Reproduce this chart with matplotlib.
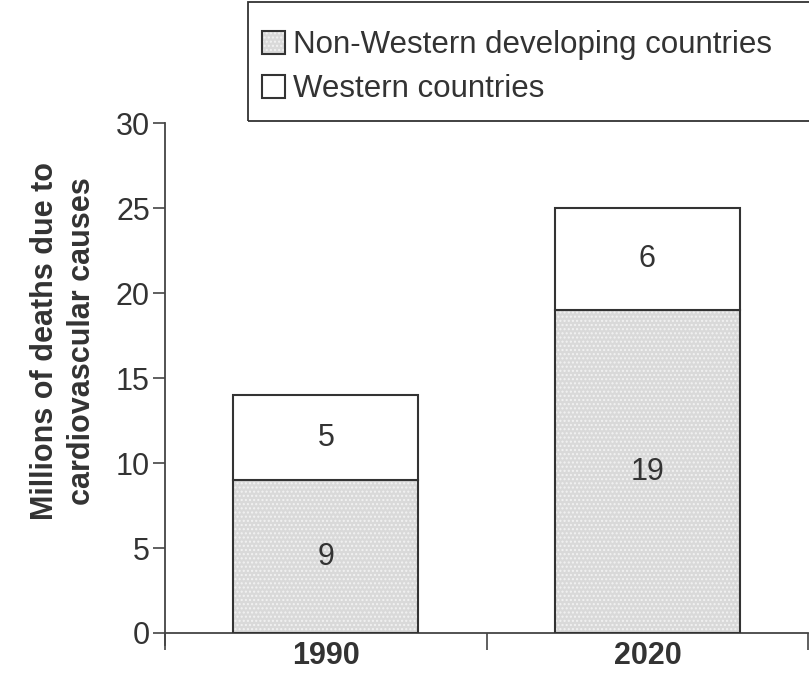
import matplotlib.pyplot as plt
from matplotlib.patches import Rectangle
import numpy as np

plt.rcParams['font.family'] = ['Liberation Sans', 'DejaVu Sans']

years = ['1990', '2020']
non_western = [9, 19]
western = [5, 6]
series_names = ['Non-Western developing countries', 'Western countries']

W, H = 809, 677
fig = plt.figure(figsize=(W / 100, H / 100), dpi=100)
ax = fig.add_axes([0.204, 0.065, 0.795, 0.753])

x = np.arange(len(years)) + 0.5
w = 0.575
gray = '#d9d9d9'
edge = '#333333'

b1 = ax.bar(x, non_western, w, color=gray, edgecolor=edge, linewidth=1.5,
            hatch='....', zorder=3)
b2 = ax.bar(x, western, w, bottom=non_western, color='white', edgecolor=edge,
            linewidth=1.5, zorder=3)
for patch in b1:
    patch._hatch_color = (0.95, 0.95, 0.95, 1)

for i in range(len(years)):
    ax.text(x[i], non_western[i] / 2, str(non_western[i]), ha='center',
            va='center', fontsize=22, color='#333333', zorder=4)
    ax.text(x[i], non_western[i] + western[i] / 2, str(western[i]),
            ha='center', va='center', fontsize=22, color='#333333', zorder=4)

ax.set_xlim(0, 2)
ax.set_ylim(0, 30)
ax.set_yticks(range(0, 31, 5))
ax.set_xticks([0, 1, 2])
ax.set_xticklabels([])
ax.set_xticks(x, minor=True)
ax.set_xticklabels(years, minor=True, fontsize=22, fontweight='bold',
                   color='#333333')
ax.tick_params(axis='x', which='minor', length=0, pad=6)
ax.tick_params(axis='x', which='major', length=12, width=1.2, color='#444444')
ax.tick_params(axis='y', length=9, width=1.2, color='#444444', labelsize=22,
               labelcolor='#333333', pad=2)

for s in ['top', 'right']:
    ax.spines[s].set_visible(False)
for s in ['left', 'bottom']:
    ax.spines[s].set_color('#444444')
    ax.spines[s].set_linewidth(1.3)
ax.spines['left'].set_bounds(-0.7, 30)
ax.set_ylabel('Millions of deaths due to\ncardiovascular causes', fontsize=22,
              fontweight='bold', color='#333333', linespacing=1.3)
ax.yaxis.set_label_coords(-0.106, 0.573)

# legend box runs off the right edge like in the scan
fig.patches.append(Rectangle((248 / W, 1 - 121 / H), 570 / W, 119 / H,
                             transform=fig.transFigure, fill=False,
                             edgecolor='#333333', linewidth=1.3))
leg = fig.legend([b1[0], b2[0]], series_names, loc='upper left',
                 bbox_to_anchor=(262 / W, 1 - 30 / H), fontsize=22.5,
                 frameon=False, handlelength=0.75, handleheight=0.75,
                 handletextpad=0.25, borderpad=0, labelspacing=0.45,
                 labelcolor='#333333', borderaxespad=0)

fig.savefig('out.png', dpi=100)
